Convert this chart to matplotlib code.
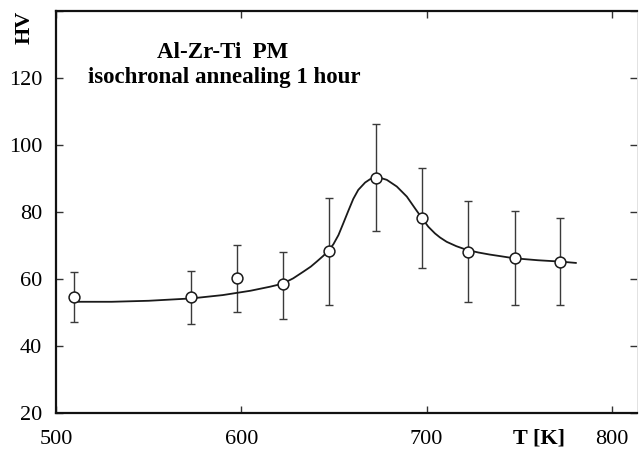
import matplotlib
matplotlib.use("Agg")
import matplotlib.pyplot as plt

# data points (T in K, Vickers hardness)
temps = [509.5, 573, 597.5, 622.5, 647.5, 672.5, 697.5, 722.5, 747.5, 772]
hv = [54.5, 54.6, 60.2, 58.4, 68.3, 90.2, 78.3, 68.2, 66.2, 65.2]
err_low = [47.1, 46.6, 50.2, 48.1, 52.2, 74.3, 63.2, 53.1, 52.2, 52.2]
err_high = [62.0, 62.5, 70.1, 68.1, 84.1, 106.2, 93.2, 83.3, 80.2, 78.2]

# fitted curve
curve_t = [509.5, 530, 550, 573, 590, 605, 615.5, 622.3, 628, 633.5, 637.5, 640.7,
           644, 647.0, 649.7, 652.4, 655.0, 657.7, 660.4, 663.1, 666.8, 669.5,
           672.2, 675.5, 678.5, 683.9, 689.3, 693.7, 697.3, 700.9, 704.5, 707.2,
           710.8, 716, 721.6, 728, 734, 740, 747, 760, 772, 780.5]
curve_hv = [53.2, 53.2, 53.5, 54.2, 55.2, 56.5, 57.7, 58.6, 60.2, 62.2, 63.7, 65.2,
            66.8, 68.4, 70.4, 73.1, 76.6, 80.3, 83.9, 86.6, 88.8, 89.8,
            90.2, 90.1, 89.6, 87.6, 84.6, 81.1, 78.3, 75.6, 73.6, 72.4,
            71.1, 69.8, 68.7, 67.9, 67.3, 66.8, 66.2, 65.6, 65.2, 64.8]

x_ticks = [500, 600, 700, 800]
y_ticks = [20, 40, 60, 80, 100, 120, 140]

plt.rcParams['font.family'] = ['Liberation Serif', 'DejaVu Serif']

fig = plt.figure(figsize=(6.39, 4.55), dpi=100)
ax = fig.add_axes([56/639, 42/455, 581/639, 402/455])

ax.plot(curve_t, curve_hv, color='#1a1a1a', lw=1.3, zorder=2,
        solid_joinstyle='round')
yerr = [[h - l for h, l in zip(hv, err_low)], [u - h for h, u in zip(hv, err_high)]]
ax.errorbar(temps, hv, yerr=yerr, fmt='none', ecolor='#3a3a3a', elinewidth=1.0,
            capsize=3, capthick=1.0, zorder=1)
ax.plot(temps, hv, 'o', ms=7.8, mfc='white', mec='#1a1a1a', mew=1.1, zorder=3)

ax.set_xlim(500, 813.5)
ax.set_ylim(20, 140)
ax.set_xticks(x_ticks)
ax.set_yticks(y_ticks)
ax.set_yticklabels(['20', '40', '60', '80', '100', '120', ''])

for side in ['left', 'bottom', 'top']:
    ax.spines[side].set_linewidth(1.6)
    ax.spines[side].set_color('#111111')
ax.spines['right'].set_linewidth(0.6)
ax.spines['right'].set_color('#dddddd')

ax.tick_params(direction='in', length=5, width=1.0, labelsize=16, color='#333333',
               top=True, right=True)
ax.tick_params(axis='x', pad=12)
ax.tick_params(axis='y', pad=10)

fig.text(25/639, 1 - 27/455, 'HV', rotation=90, ha='center', va='center',
         fontsize=16, fontweight='bold')
fig.text(223/639, 1 - 53/455, 'Al-Zr-Ti  PM', ha='center', va='center',
         fontsize=16.5, fontweight='bold')
fig.text(224/639, 1 - 78/455, 'isochronal annealing 1 hour', ha='center', va='center',
         fontsize=16.5, fontweight='bold')
fig.text(539/639, 1 - 439/455, 'T [K]', ha='center', va='center',
         fontsize=16, fontweight='bold')

fig.savefig('out.png', dpi=100)
